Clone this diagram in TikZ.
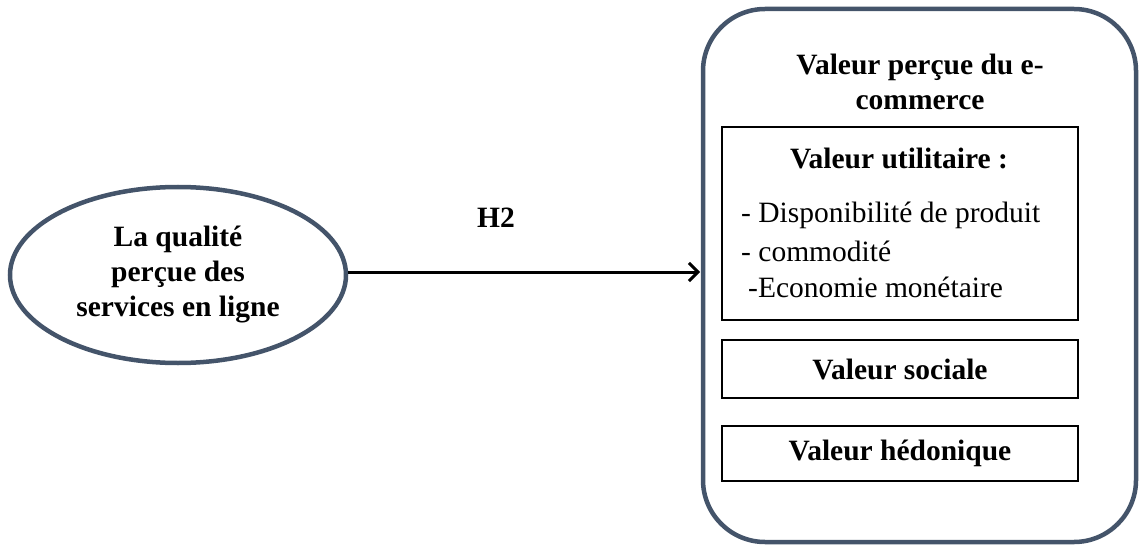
\documentclass[tikz,border=0pt]{standalone}
\usepackage{fontspec}
\setmainfont{Liberation Serif}
\usetikzlibrary{arrows.meta,shapes.geometric}
\definecolor{slate}{HTML}{44546A}
\tikzset{
  bigtext/.style={font=\fontsize{29.5}{35}\selectfont\bfseries},
  construct/.style={draw=slate, line width=4.5pt, ellipse, minimum width=336pt, minimum height=176pt, align=center, bigtext},
  frame/.style={draw=slate, line width=4.5pt, rounded corners=62pt},
  dimbox/.style={draw=black, line width=1.6pt, minimum width=356pt, inner sep=0pt},
  lbl/.style={bigtext, align=center},
  item/.style={font=\fontsize{29.5}{35}\selectfont, anchor=west, inner sep=0pt},
  link/.style={line width=3pt, -{Straight Barb[length=9pt, width=18pt, line width=3pt]}}
}
\begin{document}
\begin{tikzpicture}[x=1pt, y=-1pt]
\useasboundingbox (0,0) rectangle (1139,545);
% outer construct frame
\draw[frame] (703,9) rectangle (1136,542);
\node[lbl] (title) at (920,82) {Valeur perçue du e-\\commerce};
% dimensions
\node[dimbox, minimum height=193pt] (util) at (900,223.5) {};
\node[lbl] (utilt) at (899,158) {Valeur utilitaire :};
\node[item] (i1) at (741,215) {- Disponibilité de produit};
\node[item] (i2) at (741,251) {- commodité};
\node[item] (i3) at (748,287) {-Economie monétaire};
\node[dimbox, minimum height=58pt, bigtext] (soc) at (900,369) {Valeur sociale};
\node[dimbox, minimum height=55pt, bigtext] (hed) at (900,453.5) {Valeur hédonique};
% independent construct
\node[construct] (qual) at (178,275) {La qualité\\perçue des\\services en ligne};
\coordinate (tip) at (700,272);
\draw[link] (qual.east |- tip) -- (tip);
\node[lbl] (h2) at (496,218) {H2};
\end{tikzpicture}
\end{document}
